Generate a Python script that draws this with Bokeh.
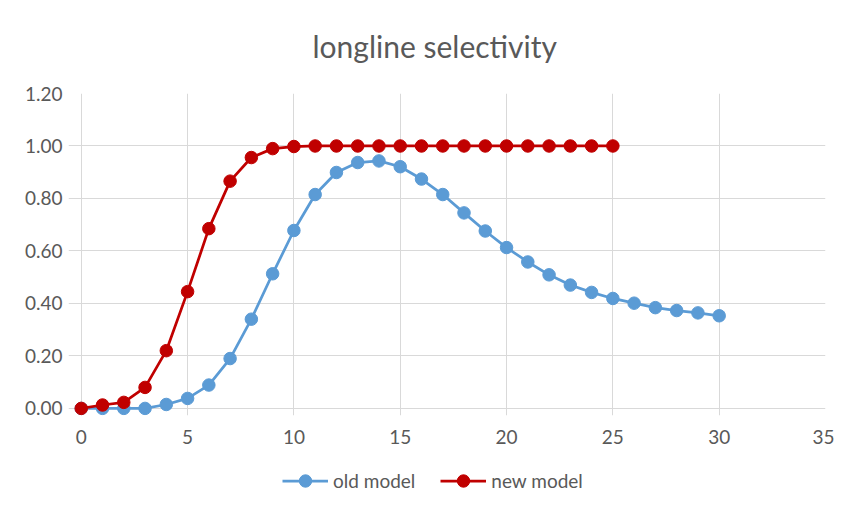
from bokeh.plotting import figure
from bokeh.layouts import column
from bokeh.models import (ColumnDataSource, Range1d, FixedTicker, NumeralTickFormatter,
                          Legend, LegendItem)
from bokeh.embed import file_html
from bokeh.resources import INLINE

# ---- data ----
age = list(range(0, 31))
old_model = [0.00, 0.00, 0.00, 0.00, 0.015, 0.038, 0.089, 0.19, 0.34, 0.513, 0.678,
             0.815, 0.899, 0.937, 0.943, 0.921, 0.874, 0.815, 0.745, 0.676, 0.613,
             0.558, 0.509, 0.470, 0.442, 0.419, 0.401, 0.384, 0.373, 0.364, 0.353]
age_new = list(range(0, 26))
new_model = [0.00, 0.013, 0.023, 0.08, 0.22, 0.445, 0.685, 0.866, 0.956, 0.99, 0.998,
             1.0, 1.0, 1.0, 1.0, 1.0, 1.0, 1.0, 1.0, 1.0, 1.0, 1.0, 1.0, 1.0, 1.0, 1.0]
x_ticks = [0, 5, 10, 15, 20, 25, 30, 35]
y_ticks = [0.0, 0.2, 0.4, 0.6, 0.8, 1.0, 1.2]
title_text = "longline selectivity"
series_names = ["old model", "new model"]

BLUE = "#5B9BD5"
RED = "#C00000"
GRID = "#D9D9D9"
TEXT = "#595959"
FONT = "Lato"
LW = 2.75
MS = 12.5

p = figure(frame_width=757, frame_height=322, output_backend="svg", toolbar_location=None,
           x_range=Range1d(-0.6, 35), y_range=Range1d(-0.027, 1.2),
           min_border_left=68, min_border_right=9, min_border_top=92, min_border_bottom=40)

p.title.text = title_text
p.title.align = "left"
p.title.offset = 244
p.title.vertical_align = "top"
p.title.text_font = FONT
p.title.text_font_size = "30px"
p.title.text_font_style = "normal"
p.title.text_color = TEXT
p.title.standoff = 55

p.outline_line_color = None
p.background_fill_color = "white"
p.border_fill_color = "white"

# axes
p.xaxis.ticker = FixedTicker(ticks=x_ticks)
p.yaxis.ticker = FixedTicker(ticks=y_ticks)
p.yaxis.formatter = NumeralTickFormatter(format="0.00")
for ax in (p.xaxis[0], p.yaxis[0]):
    ax.axis_line_color = None
    ax.major_tick_line_color = None
    ax.minor_tick_line_color = None
    ax.major_label_text_font = FONT
    ax.major_label_text_font_size = "19px"
    ax.major_label_text_color = TEXT
p.yaxis.major_label_standoff = 0
p.xaxis.major_label_standoff = 8

p.xgrid.grid_line_color = GRID
p.ygrid.grid_line_color = GRID
p.xgrid.grid_line_width = 1
p.ygrid.grid_line_width = 1

src_old = ColumnDataSource(dict(x=age, y=old_model))
src_new = ColumnDataSource(dict(x=age_new, y=new_model))

p.line("x", "y", source=src_old, line_color=BLUE, line_width=LW)
p.scatter("x", "y", source=src_old, size=MS, fill_color=BLUE, line_color=BLUE)
p.line("x", "y", source=src_new, line_color=RED, line_width=LW)
p.scatter("x", "y", source=src_new, size=MS, fill_color=RED, line_color=RED)

# ---- legend strip under the chart (same series drawn out of view, legend only) ----
lf = figure(width=834, height=44, output_backend="svg", toolbar_location=None,
            x_range=Range1d(1000, 1001), y_range=Range1d(1000, 1001),
            x_axis_type=None, y_axis_type=None,
            min_border_left=0, min_border_right=0, min_border_top=0, min_border_bottom=0)
lf.grid.visible = False
lf.outline_line_color = None
lf.border_fill_color = "white"
lf.background_fill_color = "white"

gl1 = lf.line("x", "y", source=src_old, line_color=BLUE, line_width=LW)
gc1 = lf.scatter("x", "y", source=src_old, size=MS, fill_color=BLUE, line_color=BLUE)
gl2 = lf.line("x", "y", source=src_new, line_color=RED, line_width=LW)
gc2 = lf.scatter("x", "y", source=src_new, size=MS, fill_color=RED, line_color=RED)

legend = Legend(items=[LegendItem(label=series_names[0], renderers=[gl1, gc1]),
                       LegendItem(label=series_names[1], renderers=[gl2, gc2])],
                orientation="horizontal", location=(214, 3),
                label_text_font=FONT, label_text_font_size="19px", label_text_color=TEXT,
                glyph_width=46, glyph_height=31, spacing=25, padding=5, margin=0,
                label_standoff=5,
                border_line_color=None, background_fill_alpha=0)
lf.add_layout(legend, "center")

layout = column(p, lf, spacing=0)
open("out.html", "w").write(file_html(layout, INLINE))
